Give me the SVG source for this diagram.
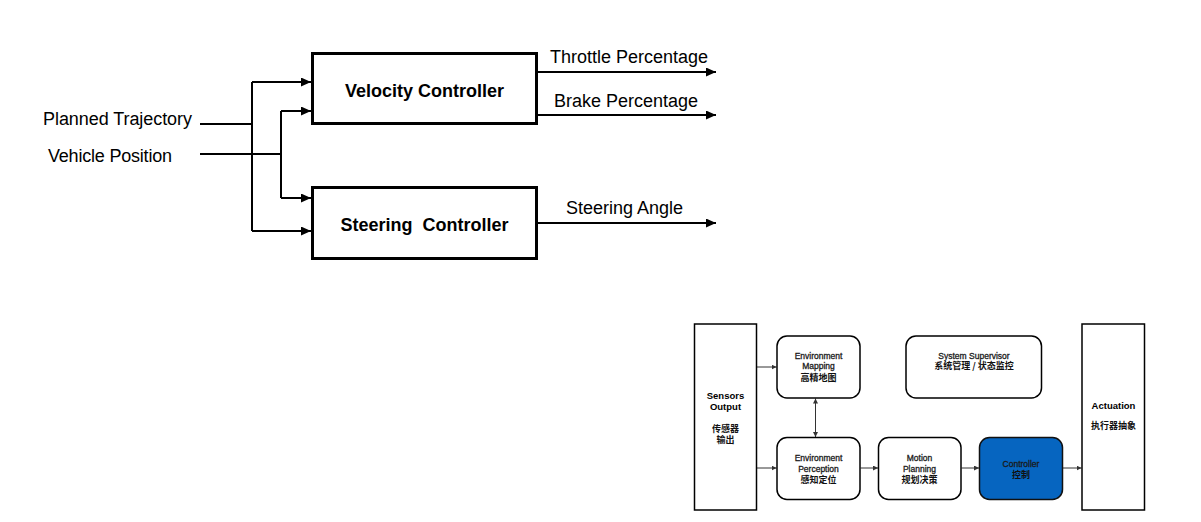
<svg xmlns="http://www.w3.org/2000/svg" width="1201" height="522" viewBox="0 0 1201 522">
<style>
.lbl{font-family:"Liberation Sans",Arial,sans-serif;font-size:18px;fill:#000}
.blbl{font-family:"Liberation Sans",Arial,sans-serif;font-size:18px;font-weight:bold;fill:#000}
.big{fill:#fff;stroke:#000;stroke-width:3}
.wire{fill:none;stroke:#000;stroke-width:2}
.sbox{fill:#fff;stroke:#000;stroke-width:1.5}
.thin{fill:none;stroke:#333;stroke-width:1}
.st{font-family:"Liberation Sans",Arial,"Noto Sans CJK SC",sans-serif;font-size:8.5px;fill:#1a1a1a;stroke:#1a1a1a;stroke-width:0.3;text-anchor:middle}
.sb{font-family:"Liberation Sans",Arial,"Noto Sans CJK SC",sans-serif;font-size:9.5px;font-weight:bold;fill:#000;text-anchor:middle}
.cjk{font-family:"Noto Sans CJK SC",sans-serif;font-size:9px;font-weight:bold;fill:#111;text-anchor:middle}
</style>
<defs>
<marker id="ah" markerUnits="userSpaceOnUse" markerWidth="10" markerHeight="9" refX="10" refY="4.5" orient="auto">
<path d="M0,0 L10,4.5 L0,9 z" fill="#000"/>
</marker>
<marker id="sh" markerUnits="userSpaceOnUse" markerWidth="5" markerHeight="5" refX="5" refY="2.5" orient="auto-start-reverse">
<path d="M0,0 L5,2.5 L0,5 z" fill="#333"/>
</marker>
</defs>

<g id="connectors">
<path class="wire" d="M200,124 H252"/>
<path class="wire" d="M200,154 H281"/>
<path class="wire" d="M252,82 V231"/>
<path class="wire" d="M281,111 V198"/>
<path class="wire" d="M252,82 H311" marker-end="url(#ah)"/>
<path class="wire" d="M252,231 H311" marker-end="url(#ah)"/>
<path class="wire" d="M281,111 H311" marker-end="url(#ah)"/>
<path class="wire" d="M281,198 H311" marker-end="url(#ah)"/>
<path class="wire" d="M538,72 H716" marker-end="url(#ah)"/>
<path class="wire" d="M538,115 H716" marker-end="url(#ah)"/>
<path class="wire" d="M538,223 H716" marker-end="url(#ah)"/>

<path class="thin" d="M757,367 H776.5" marker-end="url(#sh)"/>
<path class="thin" d="M757,468 H776.5" marker-end="url(#sh)"/>
<path class="thin" d="M815.5,398.5 V437" marker-start="url(#sh)" marker-end="url(#sh)"/>
<path class="thin" d="M860.5,468 H878" marker-end="url(#sh)"/>
<path class="thin" d="M961.5,468 H979" marker-end="url(#sh)"/>
<path class="thin" d="M1063,468 H1081.5" marker-end="url(#sh)"/>
</g>

<g id="labels">
<text class="lbl" x="43" y="125" textLength="149">Planned Trajectory</text>
<text class="lbl" x="48" y="161.5" textLength="124">Vehicle Position</text>
<text class="lbl" x="550" y="63">Throttle Percentage</text>
<text class="lbl" x="554" y="106.5">Brake Percentage</text>
<text class="lbl" x="566" y="213.5">Steering Angle</text>
</g>

<g id="velocity">
<rect class="big" x="312.5" y="53.5" width="224" height="70"/>
<text class="blbl" x="424.5" y="96.5" text-anchor="middle">Velocity Controller</text>
</g>
<g id="steering">
<rect class="big" x="312.5" y="187.5" width="224" height="71"/>
<text class="blbl" x="424.5" y="231" text-anchor="middle" xml:space="preserve">Steering  Controller</text>
</g>

<g id="sensors">
<rect class="sbox" x="694.5" y="324" width="62" height="186"/>
<text class="sb" x="725.5" y="399">Sensors</text>
<text class="sb" x="725.5" y="409.5">Output</text>
<text class="cjk" x="725.5" y="431.5">传感器</text>
<text class="cjk" x="725.5" y="443">输出</text>
</g>
<g id="mapping">
<rect class="sbox" x="777" y="336" width="83" height="62" rx="10"/>
<text class="st" x="818.5" y="358.5">Environment</text>
<text class="st" x="818.5" y="369">Mapping</text>
<text class="cjk" x="818.5" y="380.5">高精地图</text>
</g>
<g id="supervisor">
<rect class="sbox" x="906" y="336" width="135.5" height="62" rx="10"/>
<text class="st" x="974" y="358.5">System Supervisor</text>
<text class="cjk" x="974" y="369">系统管理 / 状态监控</text>
</g>
<g id="perception">
<rect class="sbox" x="777" y="437.5" width="83" height="62" rx="10"/>
<text class="st" x="818.5" y="461">Environment</text>
<text class="st" x="818.5" y="472">Perception</text>
<text class="cjk" x="818.5" y="482.5">感知定位</text>
</g>
<g id="motion">
<rect class="sbox" x="878.5" y="437.5" width="82.5" height="62" rx="10"/>
<text class="st" x="919.5" y="461">Motion</text>
<text class="st" x="919.5" y="472">Planning</text>
<text class="cjk" x="919.5" y="482.5">规划决策</text>
</g>
<g id="controller">
<rect x="979.5" y="437.5" width="83" height="62" rx="10" fill="#0665C0" stroke="#111" stroke-width="1.5"/>
<text class="st" x="1021" y="467">Controller</text>
<text class="cjk" x="1021" y="477.5">控制</text>
</g>
<g id="actuation">
<rect class="sbox" x="1082" y="324" width="62.5" height="186"/>
<text class="sb" x="1113.5" y="409">Actuation</text>
<text class="cjk" x="1113.5" y="428.5">执行器抽象</text>
</g>
</svg>
